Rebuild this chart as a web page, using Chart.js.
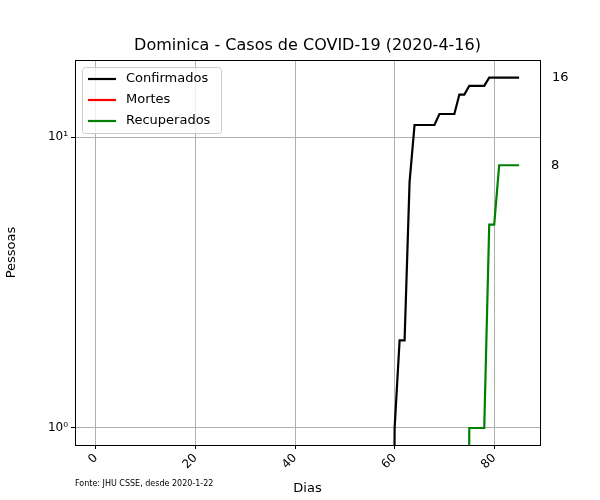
<!DOCTYPE html>
<html>
<head>
<meta charset="utf-8">
<script src="https://cdn.jsdelivr.net/npm/chart.js@4"></script>
<style>
  html, body { margin: 0; background: #fff; }
  #wrap { width: 600px; height: 500px; }
</style>
</head>
<body>
<div id="wrap"><canvas id="c"></canvas></div>
<script>
// Days since 2020-1-22
const days = Array.from({ length: 86 }, (_, i) => i);

// Values (days 0..59 are zero)
const confirmed = [].concat(
  new Array(60).fill(0),
  [1, 2, 2, 7, 11, 11, 11, 11, 11, 12, 12, 12, 12, 14, 14, 15, 15, 15, 15, 16, 16, 16, 16, 16, 16, 16]
);
const deaths = new Array(86).fill(0);
const recovered = [].concat(
  new Array(75).fill(0),
  [1, 1, 1, 1, 5, 5, 8, 8, 8, 8, 8]
);
const xTicks = [0, 20, 40, 60, 80];
const yTicks = [1, 10];

const FONT = 'DejaVu Sans';
const FAMILY = { family: FONT };

// zero cannot sit on a log axis; push it far below so the line is clipped
const toLog = arr => arr.map((v, i) => ({ x: days[i], y: v === 0 ? 1e-3 : v }));

const sup = { 0: '\u2070', 1: '\u00b9' };

const decorations = {
  id: 'decorations',
  afterDraw(chart) {
    const ctx = chart.ctx;
    const area = chart.chartArea;
    const y = chart.scales.y;
    ctx.save();
    // frame
    ctx.strokeStyle = '#000';
    ctx.lineWidth = 1;
    ctx.strokeRect(area.left + 0.5, area.top + 0.5, area.right - area.left, area.bottom - area.top);
    // title
    ctx.fillStyle = '#000';
    ctx.font = '16px ' + FONT;
    ctx.textAlign = 'center';
    ctx.textBaseline = 'middle';
    ctx.fillText('Dominica - Casos de COVID-19 (2020-4-16)', (area.left + area.right) / 2, 46);
    // last values
    ctx.font = '13px ' + FONT;
    ctx.textAlign = 'left';
    ctx.fillText(String(confirmed[confirmed.length - 1]), 552, y.getPixelForValue(confirmed[confirmed.length - 1]));
    ctx.fillText(String(recovered[recovered.length - 1]), 551, y.getPixelForValue(recovered[recovered.length - 1]));
    // source
    ctx.font = '8px ' + FONT;
    ctx.fillText('Fonte: JHU CSSE, desde 2020-1-22', 75, 484);
    // legend
    const items = [['Confirmados', '#000'], ['Mortes', 'red'], ['Recuperados', 'green']];
    const lx = area.left + 7, ly = area.top + 7;
    ctx.fillStyle = 'rgba(255,255,255,0.8)';
    ctx.strokeStyle = '#ccc';
    ctx.beginPath();
    ctx.roundRect(lx + 0.5, ly + 0.5, 139, 66, 3);
    ctx.fill();
    ctx.stroke();
    ctx.font = '13px ' + FONT;
    items.forEach(([label, color], i) => {
      const yy = ly + 12 + i * 21;
      ctx.strokeStyle = color;
      ctx.lineWidth = 2.2;
      ctx.beginPath();
      ctx.moveTo(lx + 6, yy);
      ctx.lineTo(lx + 34, yy);
      ctx.stroke();
      ctx.fillStyle = '#000';
      ctx.fillText(label, lx + 44, yy);
    });
    ctx.restore();
  }
};

const lineSet = (label, data, color) => ({
  label, data: toLog(data), borderColor: color, backgroundColor: color,
  borderWidth: 2.2, pointRadius: 0, tension: 0, fill: false
});

new Chart(document.getElementById('c'), {
  type: 'line',
  data: {
    datasets: [
      lineSet('Confirmados', confirmed, '#000'),
      lineSet('Mortes', deaths, 'red'),
      lineSet('Recuperados', recovered, 'green')
    ]
  },
  options: {
    responsive: true,
    maintainAspectRatio: false,
    animation: false,
    layout: { padding: { top: 60, right: 60, left: 0, bottom: 0 } },
    plugins: { legend: { display: false }, tooltip: { enabled: false } },
    scales: {
      x: {
        type: 'linear', min: -4.2, max: 89.2,
        afterBuildTicks: s => { s.ticks = xTicks.map(v => ({ value: v })); },
        afterFit: s => { s.height = 55; },
        grid: { color: '#b0b0b0', tickLength: 4, tickColor: '#000' },
        border: { display: false },
        ticks: { color: '#000', font: { ...FAMILY, size: 12 }, maxRotation: 45, minRotation: 45, padding: 2 },
        title: { display: true, text: 'Dias', color: '#000', font: { ...FAMILY, size: 13 }, padding: { top: 0 } }
      },
      y: {
        type: 'logarithmic', min: 0.874, max: 18.4,
        afterBuildTicks: s => { s.ticks = yTicks.map(v => ({ value: v })); },
        afterFit: s => { s.width = 75; },
        grid: { color: '#b0b0b0', tickLength: 4, tickColor: '#000' },
        border: { display: false },
        ticks: {
          color: '#000', font: { ...FAMILY, size: 12 }, padding: 3,
          callback: v => '10' + sup[Math.round(Math.log10(v))]
        },
        title: { display: true, text: 'Pessoas', color: '#000', font: { ...FAMILY, size: 13 }, padding: { bottom: 6 } }
      }
    }
  },
  plugins: [decorations]
});
</script>
</body>
</html>
